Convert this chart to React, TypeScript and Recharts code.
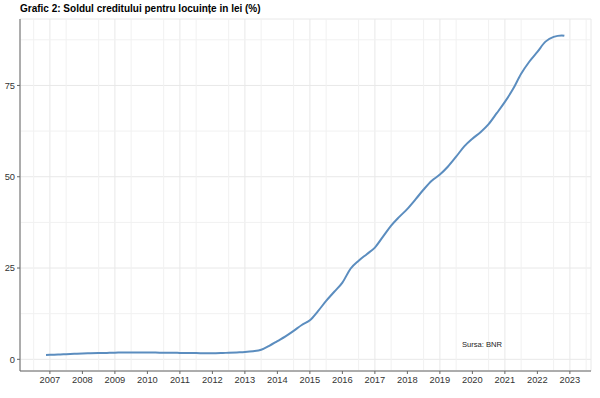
import {
  CartesianGrid,
  Line,
  LineChart,
  ReferenceLine,
  XAxis,
  YAxis,
} from 'recharts';

// decimal years, quarterly readings of the curve
const years = [
  2006.88, 2007.0, 2007.25, 2007.5, 2007.75, 2008.0, 2008.25, 2008.5, 2008.75,
  2009.0, 2009.25, 2009.5, 2009.75, 2010.0, 2010.25, 2010.5, 2010.75, 2011.0,
  2011.25, 2011.5, 2011.75, 2012.0, 2012.25, 2012.5, 2012.75, 2013.0, 2013.25,
  2013.5, 2013.75, 2014.0, 2014.25, 2014.5, 2014.75, 2015.0, 2015.25, 2015.5,
  2015.75, 2016.0, 2016.25, 2016.5, 2016.75, 2017.0, 2017.25, 2017.5, 2017.75,
  2018.0, 2018.25, 2018.5, 2018.75, 2019.0, 2019.25, 2019.5, 2019.75, 2020.0,
  2020.25, 2020.5, 2020.75, 2021.0, 2021.25, 2021.5, 2021.75, 2022.0, 2022.25,
  2022.5, 2022.75, 2022.83,
];

const shareLei = [
  1.2, 1.25, 1.3, 1.4, 1.5, 1.6, 1.65, 1.7, 1.75, 1.8, 1.9, 1.9, 1.9, 1.85,
  1.85, 1.8, 1.8, 1.75, 1.7, 1.7, 1.65, 1.65, 1.7, 1.8, 1.9, 2.0, 2.2, 2.6, 3.7,
  5.0, 6.3, 7.8, 9.4, 10.7, 13.2, 16.0, 18.5, 21.0, 24.8, 27.0, 28.8, 30.6,
  33.6, 36.6, 39.0, 41.2, 43.8, 46.5, 48.9, 50.6, 52.8, 55.5, 58.3, 60.4, 62.2,
  64.4, 67.4, 70.5, 74.0, 78.2, 81.5, 84.2, 87.0, 88.3, 88.7, 88.6,
];

const xTicks = [
  2007, 2008, 2009, 2010, 2011, 2012, 2013, 2014, 2015, 2016, 2017, 2018, 2019,
  2020, 2021, 2022, 2023,
];
const xMinor = [
  2006.5, 2007.5, 2008.5, 2009.5, 2010.5, 2011.5, 2012.5, 2013.5, 2014.5,
  2015.5, 2016.5, 2017.5, 2018.5, 2019.5, 2020.5, 2021.5, 2022.5, 2023.5,
];
const yTicks = [0, 25, 50, 75];
const yMinor = [12.5, 37.5, 62.5, 87.5];

const data = years.map((t, i) => ({ t, v: shareLei[i] }));

const font = '"Liberation Sans", Arial, sans-serif';

export default function App() {
  return (
    <div
      style={{
        position: 'absolute',
        left: 0,
        top: 0,
        width: 600,
        height: 398,
        background: '#fff',
        fontFamily: font,
      }}
    >
      <div
        style={{
          position: 'absolute',
          left: 20,
          top: 3,
          fontSize: 10,
          fontWeight: 'bold',
          color: '#000',
          whiteSpace: 'nowrap',
        }}
      >
        Grafic 2: Soldul creditului pentru locuințe in lei (%)
      </div>
      <LineChart
        width={600}
        height={398}
        data={data}
        margin={{ top: 19, right: 9, left: 0, bottom: 7 }}
      >
        <CartesianGrid stroke='#e8e8e8' strokeWidth={1} />
        {xMinor.map((x) => (
          <ReferenceLine key={`mx-${x}`} x={x} stroke='#f1f1f1' />
        ))}
        {yMinor.map((y) => (
          <ReferenceLine key={`my-${y}`} y={y} stroke='#f1f1f1' />
        ))}
        <XAxis
          dataKey='t'
          type='number'
          domain={[2006.08, 2023.65]}
          ticks={xTicks}
          allowDataOverflow
          height={20}
          tickSize={3}
          tickMargin={2}
          stroke='#666'
          tick={{ fill: '#333', fontSize: 9.3, fontFamily: font }}
        />
        <XAxis
          xAxisId='top'
          orientation='top'
          type='number'
          domain={[2006.08, 2023.65]}
          height={0}
          tick={false}
          tickLine={false}
          stroke='#c4c4c4'
        />
        <YAxis
          type='number'
          domain={[-3.2, 93.2]}
          ticks={yTicks}
          allowDataOverflow
          width={20}
          tickSize={3}
          tickMargin={2}
          stroke='#666'
          tick={{ fill: '#333', fontSize: 9.3, fontFamily: font }}
        />
        <YAxis
          yAxisId='right'
          orientation='right'
          type='number'
          domain={[-3.2, 93.2]}
          width={0}
          tick={false}
          tickLine={false}
          stroke='#c4c4c4'
        />
        <Line
          type='monotone'
          dataKey='v'
          stroke='#5b8dbf'
          strokeWidth={2}
          dot={false}
          isAnimationActive={false}
        />
      </LineChart>
      <div
        style={{
          position: 'absolute',
          left: 462,
          top: 340,
          fontSize: 7.6,
          color: '#222',
          whiteSpace: 'nowrap',
        }}
      >
        Sursa: BNR
      </div>
    </div>
  );
}
